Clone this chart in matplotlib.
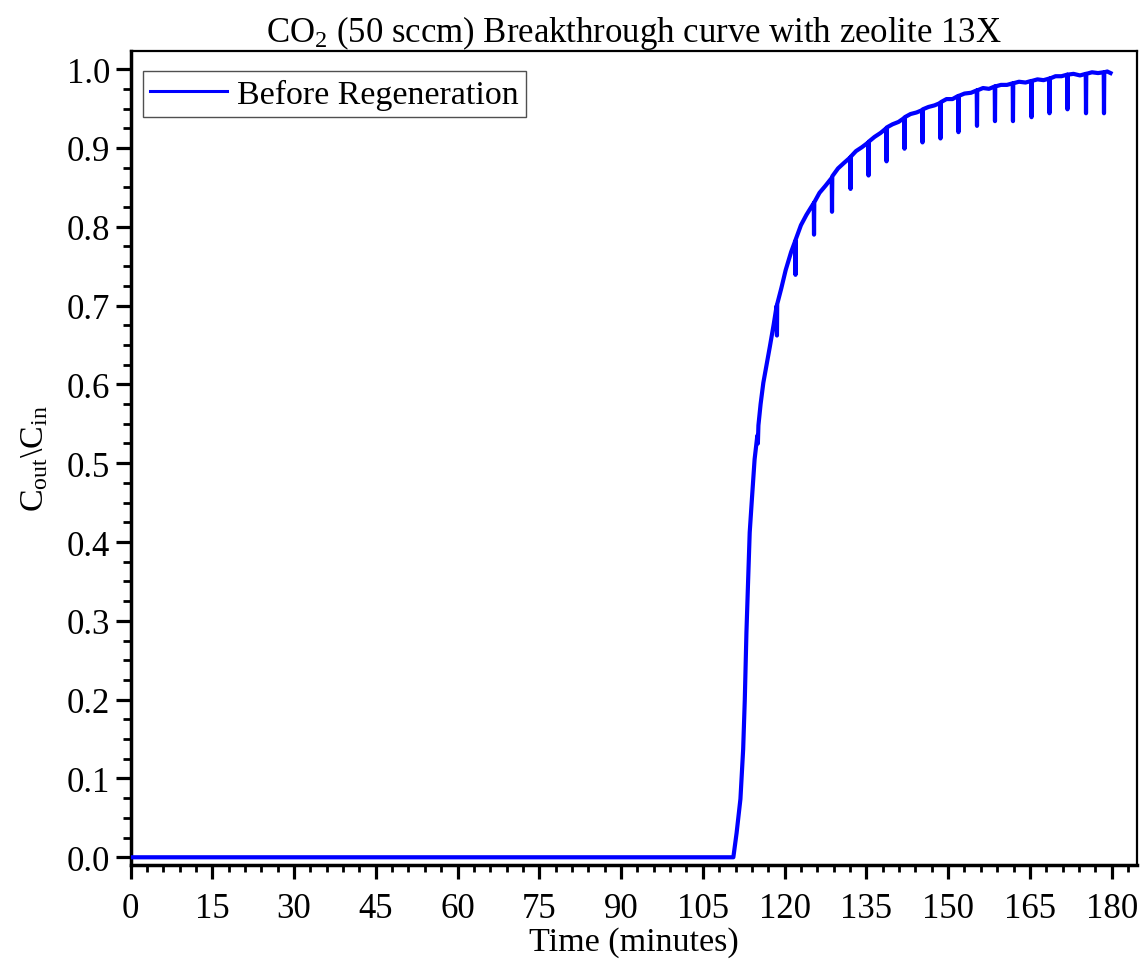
import matplotlib
matplotlib.use("Agg")
import matplotlib.pyplot as plt
from matplotlib.ticker import MultipleLocator, FormatStrFormatter

plt.rcParams['font.family'] = ['Liberation Serif', 'DejaVu Serif']
plt.rcParams['mathtext.fontset'] = 'custom'
plt.rcParams['mathtext.rm'] = 'Liberation Serif'
plt.rcParams['mathtext.it'] = 'Liberation Serif:italic'

# ---- data (time in minutes, Cout/Cin) ----
time_min = [0.0, 20.0, 40.0, 60.0, 80.0, 100.0, 110.6,
            111.2, 111.9, 112.4, 112.7, 113.0, 113.3, 113.6, 114.0, 114.5, 115.0,
            115.1, 115.2, 115.6, 116.1, 116.7, 117.3, 118.0, 118.55,
            118.6, 118.65, 119.4, 120.2, 121.2, 121.95,
            122.0, 122.05, 123.0, 124.0, 124.8, 125.35,
            125.4, 125.45, 126.4, 127.5, 128.65,
            128.7, 128.75, 129.8, 130.9, 132.05,
            132.1, 132.15, 133.1, 134.2, 135.35,
            135.4, 135.45, 136.5, 137.6, 138.65,
            138.7, 138.75, 139.8, 140.9, 141.95,
            142.0, 142.05, 143.1, 144.2, 145.25,
            145.3, 145.35, 146.4, 147.5, 148.55,
            148.6, 148.65, 149.7, 150.8, 151.85,
            151.9, 151.95, 153.0, 154.2, 155.25,
            155.3, 155.35, 156.4, 157.5, 158.55,
            158.6, 158.65, 159.7, 160.8, 161.85,
            161.9, 161.95, 163.0, 164.2, 165.25,
            165.3, 165.35, 166.4, 167.5, 168.55,
            168.6, 168.65, 169.7, 170.8, 171.85,
            171.9, 171.95, 173.0, 174.2, 175.25,
            175.3, 175.35, 176.4, 177.5, 178.55,
            178.6, 178.65, 179.2, 179.8]
c_ratio = [0.0, 0.0, 0.0, 0.0, 0.0, 0.0, 0.0,
           0.031, 0.074, 0.137, 0.200, 0.285, 0.349, 0.412, 0.454, 0.505, 0.535,
           0.525, 0.548, 0.575, 0.602, 0.625, 0.648, 0.676, 0.700,
           0.662, 0.702, 0.722, 0.745, 0.768, 0.782,
           0.739, 0.784, 0.802, 0.815, 0.824, 0.830,
           0.790, 0.831, 0.843, 0.852, 0.862,
           0.819, 0.864, 0.874, 0.881, 0.888,
           0.848, 0.889, 0.896, 0.901, 0.907,
           0.865, 0.908, 0.914, 0.919, 0.925,
           0.883, 0.926, 0.930, 0.933, 0.938,
           0.899, 0.939, 0.943, 0.945, 0.948,
           0.907, 0.949, 0.952, 0.954, 0.957,
           0.912, 0.958, 0.962, 0.962, 0.966,
           0.920, 0.966, 0.969, 0.970, 0.973,
           0.928, 0.973, 0.976, 0.975, 0.978,
           0.934, 0.978, 0.980, 0.980, 0.982,
           0.934, 0.982, 0.984, 0.983, 0.985,
           0.939, 0.985, 0.987, 0.986, 0.988,
           0.944, 0.988, 0.991, 0.991, 0.993,
           0.949, 0.993, 0.994, 0.992, 0.994,
           0.944, 0.994, 0.996, 0.995, 0.996,
           0.944, 0.996, 0.997, 0.995]

series_label = "Before Regeneration"
title_text = "CO$_2$ (50 sccm) Breakthrough curve with zeolite 13X"
xlabel_text = "Time (minutes)"
ylabel_text = "C$_{\\mathrm{out}}$\\C$_{\\mathrm{in}}$"

W, H = 1141, 962
fig = plt.figure(figsize=(W / 100, H / 100), dpi=100)
ax = fig.add_axes([130.5 / W, 1 - 866 / H, (1136.7 - 130.5) / W, (866 - 52) / H])

ax.plot(time_min, c_ratio, color='#0000ff', lw=3.0, label=series_label, zorder=3)

ax.set_xlim(0, 184.6)
ax.set_ylim(-0.0098, 1.023)
ax.xaxis.set_major_locator(MultipleLocator(15))
ax.xaxis.set_minor_locator(MultipleLocator(3))
ax.yaxis.set_major_locator(MultipleLocator(0.1))
ax.yaxis.set_minor_locator(MultipleLocator(0.025))
ax.yaxis.set_major_formatter(FormatStrFormatter('%.1f'))

ax.tick_params(axis='x', which='major', direction='out', length=10, width=2.3,
               labelsize=25, top=False, pad=9.5)
ax.tick_params(axis='y', which='major', direction='out', length=11, width=2.3,
               labelsize=25, right=False, pad=3.5)
ax.tick_params(axis='x', which='minor', direction='out', length=5, width=2.0, top=False)
ax.tick_params(axis='y', which='minor', direction='out', length=6, width=2.0, right=False)
for s in ['left', 'bottom']:
    ax.spines[s].set_linewidth(2.5)
for s in ['top', 'right']:
    ax.spines[s].set_linewidth(1.6)

ax.set_title(title_text, fontsize=25, pad=3)
ax.set_xlabel(xlabel_text, fontsize=24.5, labelpad=1)
ax.set_ylabel(ylabel_text, fontsize=24.5, labelpad=12)

leg = ax.legend(loc='upper left', bbox_to_anchor=(143 / W, 1 - 72 / H),
                bbox_transform=fig.transFigure, borderaxespad=0,
                fontsize=24.5, frameon=True, fancybox=False,
                edgecolor='#505050', framealpha=1, handlelength=2.25,
                borderpad=0.22, handletextpad=0.3)
leg.get_frame().set_linewidth(1.0)
for ln in leg.get_lines():
    ln.set_linewidth(2.2)

fig.savefig("out.png", dpi=100)
